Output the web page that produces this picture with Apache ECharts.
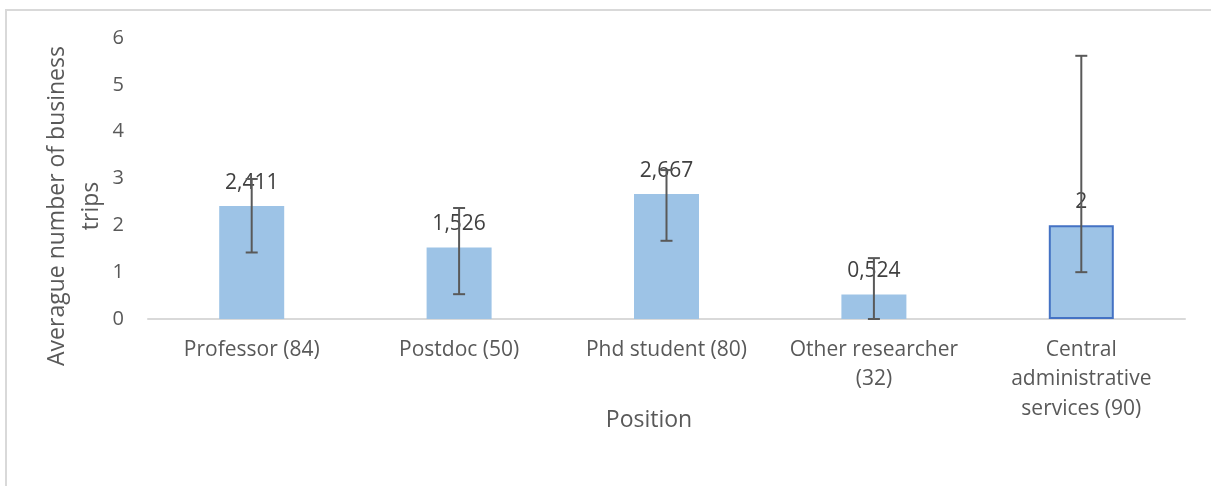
<!DOCTYPE html>
<html>
<head>
<meta charset="utf-8">
<script src="https://cdn.jsdelivr.net/npm/echarts@6/dist/echarts.min.js"></script>
<style>
  html, body { margin: 0; padding: 0; background: #fff; }
  #chart { width: 1211px; height: 486px; }
</style>
</head>
<body>
<div id="chart"></div>
<script>
const categories = ['Professor (84)', 'Postdoc (50)', 'Phd student (80)', 'Other researcher\n(32)', 'Central\nadministrative\nservices (90)'];
const values = [2.411, 1.526, 2.667, 0.524, 2];
const errLow = [1.42, 0.53, 1.67, 0.0, 1.00];
const errHigh = [2.99, 2.37, 3.18, 1.30, 5.62];
const yTicks = [0, 1, 2, 3, 4, 5, 6];

const FONT = '"Open Sans", sans-serif';
const chart = echarts.init(document.getElementById('chart'), null, { renderer: 'canvas' });

const barData = values.map((v, i) => {
  const item = { value: v };
  if (i === values.length - 1) {
    item.itemStyle = { borderColor: '#4472C4', borderWidth: 2 };
  }
  return item;
});
const errData = values.map((v, i) => [i, errLow[i], errHigh[i]]);

chart.setOption({
  animation: false,
  backgroundColor: '#fff',
  textStyle: { fontFamily: FONT },
  grid: { left: 148, right: 26, top: 38, bottom: 167 },
  graphic: [
    {
      type: 'rect', silent: true,
      shape: { x: 6, y: 10, width: 1400, height: 700 },
      style: { fill: 'none', stroke: '#D9D9D9', lineWidth: 2 }
    },
    {
      type: 'text', silent: true,
      x: 74, y: 206, rotation: Math.PI / 2,
      style: {
        text: 'Averague number of business\ntrips',
        font: '23px ' + FONT, fill: '#595959',
        textAlign: 'center', textVerticalAlign: 'middle', lineHeight: 34
      }
    },
    {
      type: 'text', silent: true,
      x: 649, y: 420,
      style: {
        text: 'Position',
        font: '23px ' + FONT, fill: '#595959',
        textAlign: 'center', textVerticalAlign: 'middle'
      }
    }
  ],
  xAxis: {
    type: 'category',
    data: categories,
    axisLine: { lineStyle: { color: '#D9D9D9', width: 2 } },
    axisTick: { show: false },
    axisLabel: {
      color: '#595959', fontSize: 21, fontFamily: FONT,
      lineHeight: 29.5, margin: 16, interval: 0
    }
  },
  yAxis: {
    type: 'value',
    min: 0, max: 6, interval: 1,
    axisLine: { show: false },
    axisTick: { show: false },
    splitLine: { show: false },
    axisLabel: {
      color: '#595959', fontSize: 20, fontFamily: FONT, margin: 24,
      formatter: v => yTicks.includes(v) ? String(v) : ''
    }
  },
  series: [
    {
      type: 'bar',
      data: barData,
      barWidth: 65,
      itemStyle: { color: '#9DC3E6' },
      label: {
        show: true, position: 'top', distance: 13,
        color: '#404040', fontSize: 21, fontFamily: FONT,
        formatter: p => String(p.value).replace('.', ',')
      },
      z: 2
    },
    {
      type: 'custom',
      data: errData,
      z: 5,
      renderItem: (params, api) => {
        const x = api.value(0);
        const lo = api.coord([x, api.value(1)]);
        const hi = api.coord([x, api.value(2)]);
        const cap = 6;
        const style = { stroke: '#595959', lineWidth: 2 };
        return {
          type: 'group',
          children: [
            { type: 'line', shape: { x1: lo[0], y1: lo[1], x2: hi[0], y2: hi[1] }, style },
            { type: 'line', shape: { x1: hi[0] - cap, y1: hi[1], x2: hi[0] + cap, y2: hi[1] }, style },
            { type: 'line', shape: { x1: lo[0] - cap, y1: lo[1], x2: lo[0] + cap, y2: lo[1] }, style }
          ]
        };
      }
    }
  ]
});
</script>
</body>
</html>
